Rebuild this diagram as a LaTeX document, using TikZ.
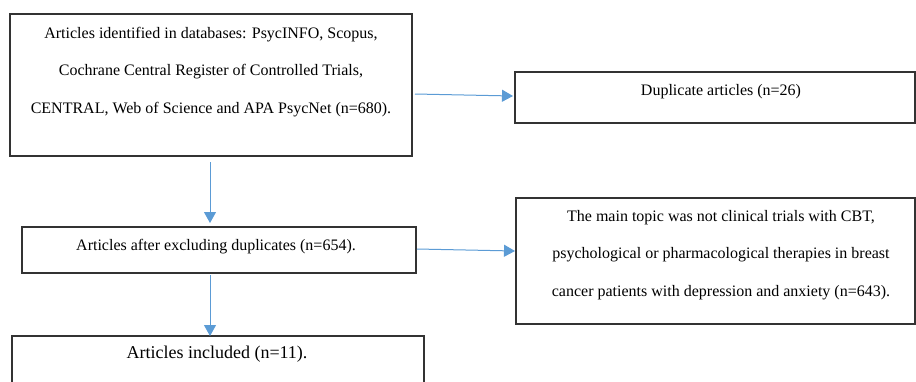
\documentclass[tikz,border=0pt]{standalone}
\usepackage{fontspec}
\setmainfont{Liberation Serif}
\usetikzlibrary{arrows.meta,calc}
\definecolor{arrowblue}{HTML}{5B9BD5}
\definecolor{boxline}{HTML}{333333}
\begin{document}
\begin{tikzpicture}[x=1pt,y=-1pt,
  box/.style={draw=boxline, line width=1.2pt, inner sep=0pt, outer sep=0pt},
  txt/.style={align=center, inner sep=0pt, font=\fontsize{16}{37.5}\selectfont},
  bigtxt/.style={align=center, inner sep=0pt, font=\fontsize{18}{22}\selectfont},
  arr/.style={draw=arrowblue, line width=1pt, -{Triangle[length=11pt,width=12pt]}}]
\useasboundingbox (0,0) rectangle (916,381);
\clip (0,0) rectangle (916,381);
% boxes
\node[box, minimum width=402pt, minimum height=142pt] (b1) at (211,85) {};
\node[box, minimum width=400pt, minimum height=51pt] (b2) at (715,97.5) {};
\node[box, minimum width=394pt, minimum height=46pt] (b3) at (219,250) {};
\node[box, minimum width=399pt, minimum height=126pt] (b4) at (715.5,261) {};
\node[box, minimum width=412pt, minimum height=80pt] (b5) at (218,376) {};
% texts
\node[txt] (t1) at (211,72) {Articles identified in databases: PsycINFO, Scopus,\\Cochrane Central Register of Controlled Trials,\\CENTRAL, Web of Science and APA PsycNet (n=680).};
\node[txt] (t2) at (721,92) {Duplicate articles (n=26)};
\node[txt] (t3) at (216,247) {Articles after excluding duplicates (n=654).};
\node[txt] (t4) at (721,255) {The main topic was not clinical trials with CBT,\\psychological or pharmacological therapies in breast\\cancer patients with depression and anxiety (n=643).};
\node[bigtxt] (t5) at (217,354) {Articles included (n=11).};
% arrows
\draw[arr] ($(b1.north east)+(3,80)$) -- ($(b2.north west)+(-2,24)$);
\draw[arr, shorten <=6pt, shorten >=4pt] ([xshift=-1pt]b1.south) -- ([xshift=-1pt]b1.south |- b3.north);
\draw[arr] ($(b3.north east)+(1,22)$) -- ($(b4.north west)+(-1,53)$);
\draw[arr, shorten <=2pt] ([xshift=-9pt]b3.south) -- ([xshift=-9pt]b3.south |- b5.north);
\end{tikzpicture}
\end{document}
